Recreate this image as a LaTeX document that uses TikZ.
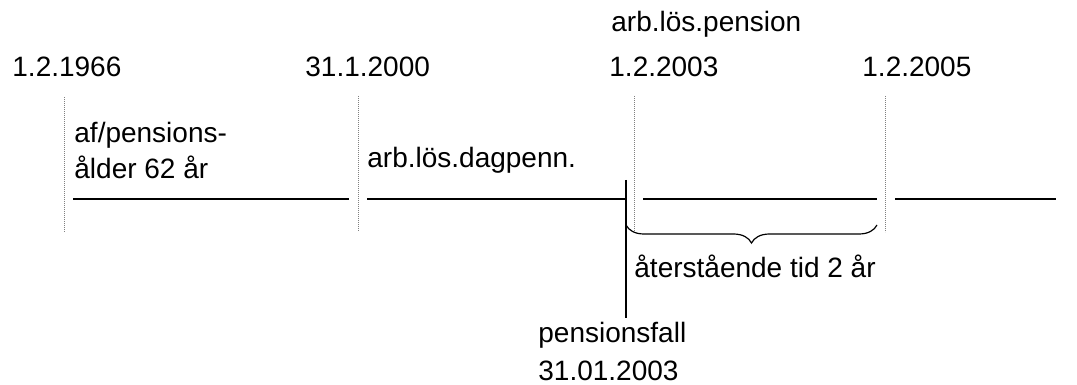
\documentclass[tikz,border=0pt]{standalone}
\usepackage{fontspec}
\setmainfont{Liberation Sans}
\usetikzlibrary{decorations.pathreplacing}

\begin{document}
\begin{tikzpicture}[x=0.5pt,y=-0.5pt]
\tikzstyle{every node}+=[inner sep=0pt,font=\fontsize{14}{18}\selectfont]
\tikzstyle{tick}=[gray,line width=0.5pt,dash pattern=on 0.6pt off 0.4pt]
\tikzstyle{span}=[black,line width=0.8pt]
\useasboundingbox (0,0) rectangle (1077,385);
\draw (12,77) node [anchor=base west] (d1966) {1.2.1966};
\draw (305,77) node [anchor=base west] (d2000) {31.1.2000};
\draw (609,77) node [anchor=base west] (d2003) {1.2.2003};
\draw (611,32) node [anchor=base west] (alpens) {arb.lös.pension};
\draw (862,77) node [anchor=base west] (d2005) {1.2.2005};
\draw (74,178) node [anchor=base west,align=left] (afage) {af/pensions-\\ålder 62 år};
\draw (367,168) node [anchor=base west] (aldag) {arb.lös.dagpenn.};
\draw (634,278) node [anchor=base west] (rest) {återstående tid 2 år};
\draw (538,342) node [anchor=base west] (pfall) {pensionsfall};
\draw (538,380) node [anchor=base west] (pdate) {31.01.2003};
\coordinate (v1a) at (64,97);
\coordinate (v1b) at (64,232);
\coordinate (v2a) at (358,96);
\coordinate (v2b) at (358,231);
\coordinate (v3a) at (634,96);
\coordinate (v3b) at (634,232);
\coordinate (v4a) at (885,96);
\coordinate (v4b) at (885,232);
\draw [tick] (v1a) -- (v1b);
\draw [tick] (v2a) -- (v2b);
\draw [tick] (v3a) -- (v3b);
\draw [tick] (v4a) -- (v4b);
\coordinate (h1a) at (73,199);
\coordinate (h1b) at (349,199);
\coordinate (h2a) at (367,199);
\coordinate (h2b) at (626,199);
\coordinate (h3a) at (643,199);
\coordinate (h3b) at (877,199);
\coordinate (h4a) at (895,199);
\coordinate (h4b) at (1056,199);
\draw [span] (h1a) -- (h1b);
\draw [span] (h2a) -- (h2b);
\draw [span] (h3a) -- (h3b);
\draw [span] (h4a) -- (h4b);
\coordinate (pf) at (626,180);
\coordinate (pfend) at (626,318);
\draw [black,line width=0.6pt] (pf) -- (pfend);
\coordinate (ba) at (626,225);
\coordinate (bb) at (877,225);
\draw [black,line width=0.6pt,decorate,decoration={brace,mirror,amplitude=9pt}] (ba) -- (bb);
\end{tikzpicture}
\end{document}
